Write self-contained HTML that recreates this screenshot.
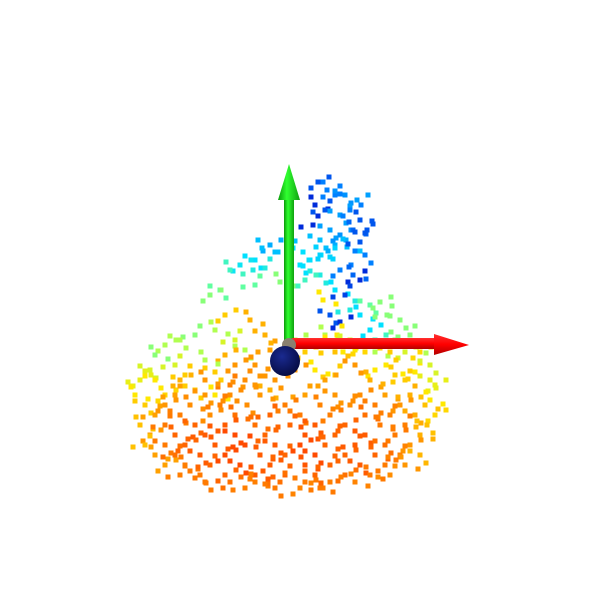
<!DOCTYPE html>
<html><head><meta charset="utf-8"><style>html,body{margin:0;padding:0;background:#fff}svg{display:block}</style></head>
<body>
<svg id="chart" width="600" height="600" viewBox="0 0 600 600">
<defs>
<linearGradient id="gg" x1="0" x2="1"><stop offset="0" stop-color="#0a9a0a"/><stop offset="0.4" stop-color="#30ff30"/><stop offset="1" stop-color="#10a010"/></linearGradient>
<linearGradient id="rg" x1="0" y1="0" x2="0" y2="1"><stop offset="0" stop-color="#ff3030"/><stop offset="0.5" stop-color="#ff0000"/><stop offset="1" stop-color="#b00000"/></linearGradient>
<radialGradient id="bg" cx="0.4" cy="0.35" r="0.7"><stop offset="0" stop-color="#1a2a90"/><stop offset="1" stop-color="#050a40"/></radialGradient>
</defs>
<g id="points"></g>
<g id="axes"></g>
</svg>
<script>
const xs=[3.3,4.2,5,6,7.2,3,4,5.5,6.5,7.5,2.8,4.5,5.5,6.8,8.2,3.5,5,6.2,7.5,8,-1.5,-2.3,0.5,1.8,2.5,3.5,4.5,-3,-4.5,-5.5,-2,1.5,5.5,6.8,7.5,3.5,2,-0.5,-3,-6.5,-7.5,5,6,8.5,9.5,3.8,6.5,4.5,5.5,7.5,10.2,11.5,8.5,4,5.2,6.5,9,11,12.5,13.5,12,9,7,3,1,
-7,-9,-10.5,-12,-13,-5,-4,-6,-8,-11,-13.5,-14.5,-15,-10,-7,-5,-3,-1.5,-2,-6,-3.5,-5.5,-9,-12,-7,-3,-1.5,1,3,5,7,9,11,13,14.5,15,14.5,
-11,-8,-5.5,-2.5,2,5,7.5,10,12.5,
-14,-12,-9.5,-6.5,-3.8,0,3.5,6.5,9,11.5,14,
-13,-10.5,-7.5,-5,-1.5,1.5,4.5,8,10.5,13,15,
-14.5,-12,-9,-6,-3,0.5,3,6,9.5,12,14.2,
-13.5,-11,-8,-5,-2,2,5,8,11,13.5,
-14,-12,-10,-7,-4,-1,1.5,4,7,10,12.5,
-13,-11,-8.5,-6,-2.5,0,3,6,9,11.5,13.5,
-12,-10,-7.5,-4.5,-1.5,2,4.5,7.5,10,12,
-10.5,-8.5,-6,-3,0,3,6,8.5,10.5,
-8,-5.5,-3,-0.5,2,4.5,7,
-4,-1,1.5,3.5,
-14.5,-13,-10.5,-8,-4,-1,4,8.5,12,14.5,
2,5,8,10.5,13.5];
const ys=[17.8,17,16.5,16.5,16,15.5,15,14.5,15,14,13.5,13,12.5,13,13,12,11.5,11.3,11.8,10.5,11.5,11.2,11,10.8,10,10.5,10.3,10,9.5,9,9.2,9.5,9,8.5,8,8.5,8,7.8,7.5,7,6.5,7,6.5,5.5,5.8,6,5,4.5,3.8,4.5,4.5,4,3,2.5,2.5,2,2,2,2.5,1.5,0.8,0.8,1,1.5,2,
3,2.5,2,1.5,0.5,2,1,0.5,0,-0.5,-1,-2,-3.5,-1.5,-1.2,-0.5,-0.5,1,2.5,4.5,4,-2.5,-3,-3.5,-3.5,-2.5,-3,-1,-1,-1.5,-0.5,-1,-1.5,-1.2,-0.5,-2.5,-4,
-3.5,-3.5,-3.5,-3.5,-3.5,-3.5,-3.5,-3.5,-3.5,
-4.5,-4.5,-4.5,-4.5,-4.5,-4.5,-4.5,-4.5,-4.5,-4.5,-4.5,
-5.5,-5.5,-5.5,-5.5,-5.5,-5.5,-5.5,-5.5,-5.5,-5.5,-5.5,
-6.5,-6.5,-6.5,-6.5,-6.5,-6.5,-6.5,-6.5,-6.5,-6.5,-6.5,
-7.5,-7.5,-7.5,-7.5,-7.5,-7.5,-7.5,-7.5,-7.5,-7.5,
-8.5,-8.5,-8.5,-8.5,-8.5,-8.5,-8.5,-8.5,-8.5,-8.5,-8.5,
-9.5,-9.5,-9.5,-9.5,-9.5,-9.5,-9.5,-9.5,-9.5,-9.5,-9.5,
-10.5,-10.5,-10.5,-10.5,-10.5,-10.5,-10.5,-10.5,-10.5,-10.5,
-11.5,-11.5,-11.5,-11.5,-11.5,-11.5,-11.5,-11.5,-11.5,
-12.2,-12.2,-12.2,-12.2,-12.2,-12.2,-12.2,
-12.8,-12.8,-12.8,-12.8,
-2,-2,-2,-2,-2,-2,-2,-2,-2,-2,
0.8,0.8,0.8,0.8,0.8];
const cs=[0.1,0.15,0.15,0.18,0.2,0.05,0.1,0.2,0.15,0.1,0.05,0.2,0.18,0.12,0.1,0.25,0.22,0.25,0.1,0.15,0.22,0.25,0.25,0.3,0.3,0.28,0.28,0.3,0.32,0.4,0.35,0.3,0.15,0.12,0.05,0.35,0.4,0.5,0.45,0.45,0.5,0.3,0.08,0.45,0.5,0.65,0.35,0.1,0.05,0.3,0.5,0.5,0.3,0.55,0.65,0.6,0.4,0.5,0.5,0.55,0.6,0.55,0.65,0.7,0.55,
0.55,0.5,0.55,0.55,0.5,0.6,0.55,0.75,0.55,0.6,0.6,0.62,0.65,0.7,0.7,0.8,0.8,0.78,0.75,0.7,0.75,0.85,0.7,0.68,0.65,0.8,0.75,0.8,0.65,0.7,0.8,0.65,0.7,0.65,0.6,0.62,0.65,
0.78,0.8,0.82,0.8,0.78,0.8,0.82,0.78,0.75,
0.7,0.8,0.82,0.85,0.82,0.85,0.84,0.82,0.85,0.8,0.72,
0.78,0.85,0.82,0.88,0.9,0.86,0.85,0.88,0.84,0.76,0.68,
0.72,0.86,0.9,0.92,0.88,0.9,0.92,0.9,0.86,0.85,0.72,
0.8,0.9,0.92,0.95,0.9,0.93,0.9,0.92,0.86,0.75,
0.72,0.86,0.9,0.92,0.95,0.92,0.95,0.9,0.92,0.88,0.8,
0.78,0.88,0.92,0.95,0.92,0.9,0.95,0.9,0.9,0.84,0.74,
0.78,0.86,0.9,0.95,0.92,0.93,0.9,0.92,0.86,0.8,
0.85,0.86,0.9,0.92,0.9,0.9,0.88,0.86,0.82,
0.86,0.88,0.85,0.88,0.86,0.85,0.84,
0.85,0.86,0.84,0.86,
0.62,0.65,0.75,0.8,0.82,0.8,0.78,0.75,0.7,0.62,
0.7,0.72,0.68,0.7,0.68];
const ox=285, oy=360, k=10;
const sx=v=>ox+v*k, sy=v=>oy-v*k;
const stops=[[0,[0,0,200]],[0.15,[0,128,255]],[0.3,[0,224,255]],[0.45,[96,255,160]],[0.55,[176,255,80]],[0.65,[255,232,0]],[0.78,[255,160,0]],[0.88,[255,112,0]],[1,[255,48,0]]];
function col(c){for(let i=1;i<stops.length;i++){if(c<=stops[i][0]){const a=stops[i-1],b=stops[i],t=(c-a[0])/(b[0]-a[0]);return 'rgb('+a[1].map((v,j)=>Math.round(v+(b[1][j]-v)*t)).join(',')+')';}}return 'rgb(255,48,0)';}
const NS='http://www.w3.org/2000/svg';
const pg=document.getElementById('points');
// rendering-only spread patterns to fill density around each sampled point
const pats=[[[0,0],[1.1,0.5],[-0.7,-0.6]],[[0,0],[-1.0,0.4],[0.6,-0.8]],[[0,0],[0.5,0.9],[-1.2,-0.2]],[[0,0],[1.3,-0.4],[-0.4,0.8]]];
for(let i=0;i<xs.length;i++){
  const offs=pats[(i*7)%4];
  for(const o of offs){
    const r=document.createElementNS(NS,'rect');
    r.setAttribute('x',sx(xs[i]+o[0])-2.5);r.setAttribute('y',sy(ys[i]+o[1])-2.5);
    r.setAttribute('width',5);r.setAttribute('height',5);r.setAttribute('fill',col(cs[i]));
    
    
    pg.appendChild(r);
  }
}
const ag=document.getElementById('axes');
ag.innerHTML=`
<rect x="284" y="198" width="10" height="146" fill="url(#gg)"/>
<polygon points="289,164 278,200 300,200" fill="url(#gg)"/>
<rect x="292" y="338" width="145" height="11" fill="url(#rg)"/>
<polygon points="469,345 434,334 434,355" fill="url(#rg)"/>
<circle cx="289" cy="345" r="7" fill="#8a8070"/>
<circle cx="285" cy="361" r="15" fill="url(#bg)"/>`;
</script>
</body></html>
